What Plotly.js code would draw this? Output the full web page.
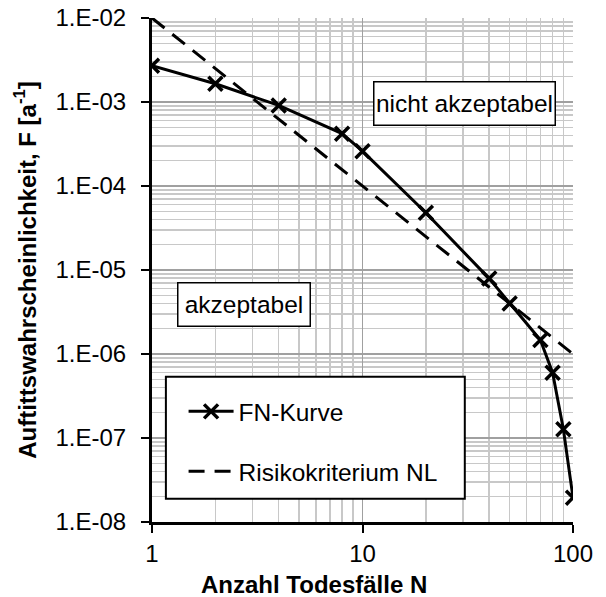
<!DOCTYPE html>
<html>
<head>
<meta charset="utf-8">
<script src="https://cdn.plot.ly/plotly-3.0.1.min.js"></script>
<style>html,body{margin:0;padding:0;background:#fff;}#chart{width:606px;height:597px;}</style>
</head>
<body>
<div id="chart"></div>
<script>
// FN-Kurve
var fnN = [1, 2, 4, 8, 10, 20, 40, 50, 70, 80, 90, 100];
var fnF = [2.7e-3, 1.65e-3, 9.1e-4, 4.2e-4, 2.6e-4, 4.8e-5, 7.9e-6, 4.0e-6, 1.47e-6, 6.0e-7, 1.27e-7, 1.95e-8];
// Risikokriterium NL
var nlN = [1, 10, 100];
var nlF = [1e-2, 1e-4, 1e-6];
// axis ticks
var yTickVals = [1e-8, 1e-7, 1e-6, 1e-5, 1e-4, 1e-3, 1e-2];
var yTickText = ["1.E-08", "1.E-07", "1.E-06", "1.E-05", "1.E-04", "1.E-03", "1.E-02"];
var xTickVals = [1, 10, 100];
var xTickText = ["1", "10", "100"];
var seriesNames = ["FN-Kurve", "Risikokriterium NL"];

var xMinor = [], yMinor = [];
for (var d = 0; d < 2; d++) for (var k = 2; k <= 9; k++) xMinor.push(k * Math.pow(10, d));
for (var e = -8; e < -2; e++) for (var m = 2; m <= 9; m++) yMinor.push(m * Math.pow(10, e));

var FONT = "Liberation Sans, Arial, sans-serif";

var traces = [
  {x: fnN, y: fnF, name: seriesNames[0], mode: "lines+markers", type: "scatter",
   legendgroup: "a",
   line: {color: "#000", width: 3},
   marker: {symbol: "x-thin", size: 14, line: {color: "#000", width: 3.5}, color: "#000"}},
  {x: nlN, y: nlF, name: seriesNames[1], mode: "lines", type: "scatter",
   legendgroup: "b",
   line: {color: "#000", width: 3, dash: "16px,10px"}}
];

var layout = {
  width: 606, height: 597,
  margin: {l: 152, r: 33, t: 18, b: 75},
  paper_bgcolor: "#fff", plot_bgcolor: "#fff",
  font: {family: FONT, size: 24, color: "#000"},
  showlegend: true,
  legend: {x: 0.075, y: 0.264, xanchor: "left", yanchor: "top", bgcolor: "rgba(0,0,0,0)",
           borderwidth: 0, font: {family: FONT, size: 24.5, color: "#000"},
           tracegroupgap: 25, itemwidth: 45},
  xaxis: {type: "log", range: [0, 2], tickmode: "array", tickvals: xTickVals, ticktext: xTickText,
          showline: true, linecolor: "#000", linewidth: 3, ticks: "outside", ticklen: 8, tickwidth: 2, tickcolor: "#000",
          ticklabelstandoff: 0,
          showgrid: true, gridcolor: "#a0a0a0", gridwidth: 1.5, zeroline: false,
          minor: {tickmode: "array", tickvals: xMinor, showgrid: true, gridcolor: "#c8c8c8", gridwidth: 1.5, ticks: ""},
          tickfont: {family: FONT, size: 24, color: "#000"}},
  yaxis: {type: "log", range: [-8, -2], tickmode: "array", tickvals: yTickVals, ticktext: yTickText,
          showline: true, linecolor: "#000", linewidth: 3, ticks: "outside", ticklen: 8, tickwidth: 2, tickcolor: "#000",
          ticklabelstandoff: 10,
          showgrid: true, gridcolor: "#a0a0a0", gridwidth: 1.5, zeroline: false,
          minor: {tickmode: "array", tickvals: yMinor, showgrid: true, gridcolor: "#c8c8c8", gridwidth: 1.5, ticks: ""},
          tickfont: {family: FONT, size: 24, color: "#000"},
          title: {text: "<b>Auftittswahrscheinlichkeit, F [a<sup>-1</sup>]</b>", font: {family: FONT, size: 24, color: "#000"}, standoff: 13}},
  shapes: [
    {type: "rect", xref: "paper", yref: "paper", x0: 0.033, x1: 0.743, y0: 0.046, y1: 0.288,
     line: {color: "#000", width: 2}, fillcolor: "#fff", layer: "above"}
  ],
  annotations: [
    {xref: "paper", yref: "paper", x: 0.742, y: 0.830, xanchor: "center", yanchor: "middle",
     text: "nicht akzeptabel", showarrow: false,
     font: {family: FONT, size: 24.5, color: "#000"}, bgcolor: "#fff", bordercolor: "#000", borderwidth: 1.5,
     width: 176, height: 38, borderpad: 2},
    {xref: "paper", yref: "paper", x: 0.2185, y: 0.4315, xanchor: "center", yanchor: "middle",
     text: "akzeptabel", showarrow: false,
     font: {family: FONT, size: 24.5, color: "#000"}, bgcolor: "#fff", bordercolor: "#000", borderwidth: 1.5,
     width: 127, height: 38, borderpad: 2},
    {xref: "paper", yref: "paper", x: 0.385, y: -0.124, xanchor: "center", yanchor: "middle",
     text: "<b>Anzahl Todesfälle N</b>", showarrow: false,
     font: {family: FONT, size: 24, color: "#000"}}
  ]
};

Plotly.newPlot("chart", traces, layout, {displayModeBar: false, staticPlot: true});
</script>
</body>
</html>
